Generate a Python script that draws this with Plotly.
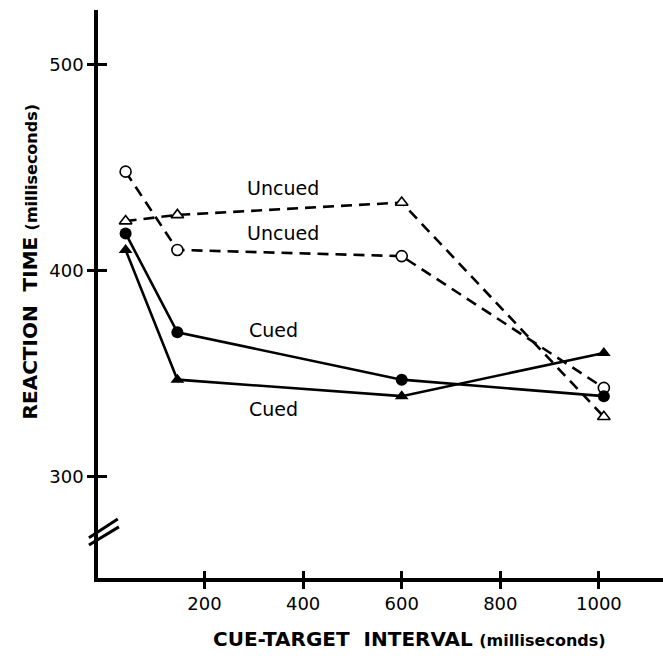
import plotly.graph_objects as go

# Data
intervals = [40, 145, 600, 1010]
uncued_circle = [448, 410, 407, 343]
uncued_triangle = [424, 427, 433, 329]
cued_circle = [418, 370, 347, 339]
cued_triangle = [410, 347, 339, 360]

x_ticks = [200, 400, 600, 800, 1000]
y_ticks = [300, 400, 500]

labels = ["Uncued", "Uncued", "Cued", "Cued"]
label_x = [359, 359, 339, 339]
label_y = [440, 418, 371, 333]

X_RANGE = [-16, 1130]
Y_RANGE = [250.7, 526.5]

fig = go.Figure()

line_w = 2.6
dash = "11px,7px"

fig.add_trace(go.Scatter(
    x=intervals, y=uncued_triangle, mode="lines+markers",
    line=dict(color="black", width=line_w, dash=dash),
    marker=dict(symbol="triangle-up", size=11, color="white",
                line=dict(color="black", width=1.6)),
    showlegend=False))
fig.add_trace(go.Scatter(
    x=intervals, y=uncued_circle, mode="lines+markers",
    line=dict(color="black", width=line_w, dash=dash),
    marker=dict(symbol="circle", size=11, color="white",
                line=dict(color="black", width=1.6)),
    showlegend=False))
fig.add_trace(go.Scatter(
    x=intervals, y=cued_circle, mode="lines+markers",
    line=dict(color="black", width=line_w),
    marker=dict(symbol="circle", size=12, color="black"),
    showlegend=False))
fig.add_trace(go.Scatter(
    x=intervals, y=cued_triangle, mode="lines+markers",
    line=dict(color="black", width=line_w),
    marker=dict(symbol="triangle-up", size=12, color="black"),
    showlegend=False))
# empty trace so the overlay axes (inner tick halves) are drawn
fig.add_trace(go.Scatter(x=[], y=[], xaxis="x2", yaxis="y2", showlegend=False))

for t, lx, ly in zip(labels, label_x, label_y):
    fig.add_annotation(x=lx, y=ly, text=t, showarrow=False,
                       font=dict(family="DejaVu Sans", size=19, color="black"))

fig.add_annotation(
    xref="paper", yref="paper", x=0.552, y=-0.108, xanchor="center", yanchor="middle",
    text="<b>CUE-TARGET  INTERVAL</b> <span style='font-size:16px'><b>(milliseconds)</b></span>",
    showarrow=False, font=dict(family="DejaVu Sans", size=20, color="black"))
fig.add_annotation(
    xref="paper", yref="paper", x=-0.120, y=0.556, xanchor="center", yanchor="middle",
    textangle=-90,
    text="<b>REACTION  TIME</b> <span style='font-size:16px'><b>(milliseconds)</b></span>",
    showarrow=False, font=dict(family="DejaVu Sans", size=20, color="black"))

# axis break marks
for (x0, y0, x1, y1) in [(-0.016, 0.071, 0.035, 0.104), (-0.016, 0.058, 0.037, 0.090)]:
    fig.add_shape(type="line", xref="paper", yref="paper",
                  x0=x0, y0=y0, x1=x1, y1=y1,
                  line=dict(color="black", width=3))

axis_common = dict(showgrid=False, zeroline=False, color="black")

fig.update_layout(
    width=663, height=656,
    margin=dict(l=98, r=0, t=10, b=78),
    paper_bgcolor="white", plot_bgcolor="white",
    font=dict(family="DejaVu Sans", color="black"),
    xaxis=dict(range=X_RANGE, tickvals=x_ticks, ticktext=[str(v) for v in x_ticks],
               showline=True, linewidth=3.5, linecolor="black",
               ticks="outside", ticklen=7, tickwidth=3, tickcolor="black",
               tickfont=dict(size=18, color="black"), **axis_common),
    yaxis=dict(range=Y_RANGE, tickvals=y_ticks, ticktext=[str(v) for v in y_ticks],
               showline=True, linewidth=3.5, linecolor="black",
               ticks="outside", ticklen=7, tickwidth=3, tickcolor="black",
               tickfont=dict(size=18, color="black"), **axis_common),
    xaxis2=dict(range=X_RANGE, overlaying="x", anchor="y", side="bottom",
                tickvals=x_ticks, showticklabels=False, showline=False,
                ticks="inside", ticklen=7, tickwidth=3, tickcolor="black",
                **axis_common),
    yaxis2=dict(range=Y_RANGE, overlaying="y", anchor="x", side="left",
                tickvals=y_ticks, showticklabels=False, showline=False,
                ticks="inside", ticklen=9, tickwidth=3, tickcolor="black",
                **axis_common),
)

fig.write_html("out.html")
